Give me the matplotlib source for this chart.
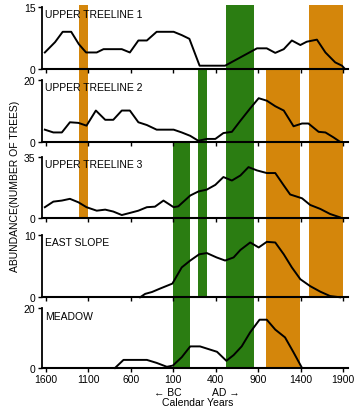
import matplotlib
matplotlib.use('Agg')
import matplotlib.pyplot as plt
from matplotlib.patches import Rectangle
from matplotlib.transforms import blended_transform_factory

plt.rcParams['font.family'] = ['Liberation Sans', 'DejaVu Sans']

# year axis: negative = BC, positive = AD
tick_years = [-1600, -1100, -600, -100, 400, 900, 1400, 1900]
tick_labels = ['1600', '1100', '600', '100', '400', '900', '1400', '1900']

names = ['UPPER TREELINE 1', 'UPPER TREELINE 2', 'UPPER TREELINE 3', 'EAST SLOPE', 'MEADOW']
ymax = [15, 20, 35, 10, 20]

yr1 = [-1610, -1490, -1400, -1300, -1210, -1125, -1000, -920, -705, -610, -510, -410, -295, -95, 0,
       90, 210, 510, 885, 1000, 1100, 1200, 1295, 1395, 1470, 1590, 1690, 1805, 1885, 1920]
v1 = [4.0, 6.5, 9.0, 9.0, 6.0, 4.0, 4.0, 4.8, 4.8, 4.0, 6.9, 6.9, 9.0, 9.0, 8.2,
      7.3, 0.8, 0.8, 5.0, 5.0, 3.9, 4.8, 6.9, 5.8, 6.6, 7.1, 4.0, 1.6, 0.8, 0]

yr2 = [-1610, -1510, -1410, -1315, -1215, -1120, -1010, -900, -805, -705, -610, -510, -410, -295, -95,
       0, 100, 195, 295, 395, 490, 590, 690, 805, 905, 1000, 1100, 1200, 1315, 1415,
       1490, 1610, 1690, 1785, 1860]
v2 = [3.9, 3.0, 3.0, 6.3, 6.1, 5.2, 10.1, 7.1, 7.1, 10.1, 10.1, 6.3, 5.4, 3.9, 3.9,
      3.0, 1.9, 0.3, 0.9, 0.9, 2.8, 3.2, 6.8, 10.8, 14.1, 13.3, 11.5, 10.1, 5.0, 5.9,
      5.9, 3.2, 3.0, 1.4, 0]

yr3 = [-1610, -1510, -1410, -1315, -1215, -1120, -1000, -900, -805, -705, -610, -510, -410, -315, -215,
       -155, -95, -40, 100, 195, 295, 395, 490, 590, 690, 785, 885, 1000, 1100, 1200,
       1275, 1415, 1510, 1630, 1745, 1860]
v3 = [6.2, 9.4, 10.0, 11.0, 9.0, 6.2, 4.2, 4.8, 3.7, 1.7, 2.9, 4.2, 6.2, 6.5, 10.0,
      8.1, 6.2, 6.7, 12.9, 15.2, 16.3, 19.0, 23.5, 21.5, 24.4, 29.2, 27.3, 25.8, 25.8, 18.7,
      13.5, 11.3, 7.5, 5.2, 2.3, 0.4]

yr4 = [-490, -430, -350, -255, -110, 0, 100, 205, 295, 410, 510, 610, 690, 805, 905,
       1000, 1100, 1200, 1295, 1395, 1510, 1630, 1745, 1865]
v4 = [0, 0.55, 0.85, 1.4, 2.2, 4.8, 5.9, 6.9, 7.1, 6.4, 5.9, 6.4, 7.6, 8.8, 8.0,
      8.9, 8.8, 6.9, 4.8, 2.9, 1.8, 0.9, 0.2, 0]

yr5 = [-785, -685, -410, -295, -175, -105, 0, 100, 215, 315, 415, 525, 610, 705, 805,
       915, 1000, 1100, 1215, 1315, 1415]
v5 = [0, 2.7, 2.7, 1.7, 0.4, 0.8, 3.6, 7.2, 7.2, 6.3, 5.4, 2.4, 4.3, 7.2, 11.9,
      16.1, 16.1, 12.8, 10.2, 5.2, 0]

years = [yr1, yr2, yr3, yr4, yr5]
values = [v1, v2, v3, v4, v5]

# shaded periods: start, end, first panel, last panel, colour
orange = '#d4860b'
green = '#2b7d12'
bar_start = [-1210, -100, 195, 515, 995, 1500]
bar_end = [-1105, 97, 295, 845, 1395, 1895]
bar_first = [0, 2, 1, 0, 1, 0]
bar_last = [2, 4, 3, 4, 4, 3]
bar_color = [orange, green, green, green, orange, orange]

W, H = 360, 410
fig = plt.figure(figsize=(3.6, 4.1), dpi=100)

zero_px = [70, 142.7, 219, 298.3, 369]
top_px = [8, 81, 158, 236, 309]
left, right = 41.7, 348.3

axes = []
for i in range(5):
    ax = fig.add_axes([left / W, 1 - zero_px[i] / H, (right - left) / W, (zero_px[i] - top_px[i]) / H])
    ax.patch.set_visible(False)
    ax.plot(years[i], values[i], color='black', lw=1.4, clip_on=False, zorder=3)
    ax.set_xlim(-1647, 1959)
    ax.set_ylim(0, ymax[i])
    ax.set_yticks([0, ymax[i]])
    ax.set_xticks(tick_years)
    if i == 4:
        ax.set_xticklabels(tick_labels)
    else:
        ax.set_xticklabels([])
    ax.spines['top'].set_visible(False)
    ax.spines['right'].set_visible(False)
    ax.spines['left'].set_linewidth(1.3)
    ax.spines['bottom'].set_linewidth(1.5)
    ax.tick_params(length=3, width=1, labelsize=7.5, pad=1.5, direction='out')
    ax.text(0.01, 1 - 7.5 / (zero_px[i] - top_px[i]), names[i], transform=ax.transAxes,
            fontsize=7.5, va='center', ha='left')
    axes.append(ax)

trans = blended_transform_factory(axes[0].transData, fig.transFigure)
for s, e, a, b, c in zip(bar_start, bar_end, bar_first, bar_last, bar_color):
    y_top = 5.5 if a == 0 else zero_px[a - 1]
    y_bot = zero_px[b]
    r = Rectangle((s, 1 - y_bot / H), e - s, (y_bot - y_top) / H, transform=trans,
                  facecolor=c, edgecolor='none', zorder=-1)
    fig.add_artist(r)

fig.text(15 / W, 1 - 186 / H, 'ABUNDANCE(NUMBER OF TREES)', rotation=90,
         fontsize=7.5, ha='center', va='center')
fig.text(182 / W, 1 - 393 / H, '\u2190 BC', fontsize=7.5, ha='right', va='center')
fig.text(212 / W, 1 - 393 / H, 'AD \u2192', fontsize=7.5, ha='left', va='center')
fig.text(197.5 / W, 1 - 403.5 / H, 'Calendar Years', fontsize=7.5, ha='center', va='center')

fig.savefig('out.png', dpi=100)
